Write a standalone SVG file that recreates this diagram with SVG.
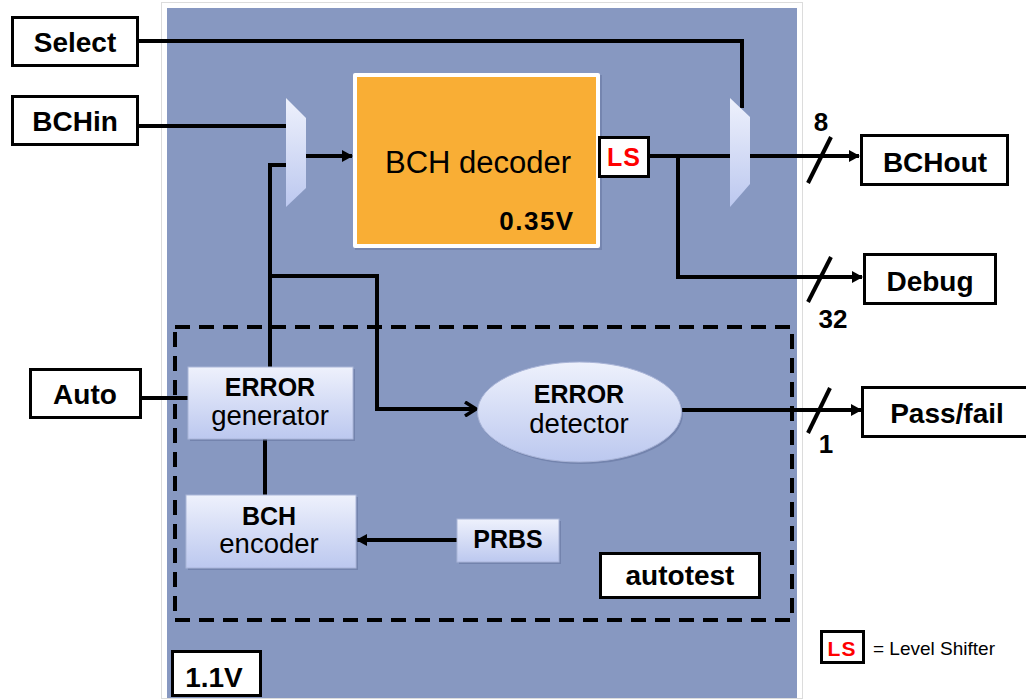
<svg xmlns="http://www.w3.org/2000/svg" width="1026" height="699" viewBox="0 0 1026 699">
<defs>
<linearGradient id="gv" x1="0" y1="0" x2="0" y2="1">
<stop offset="0" stop-color="#eef1fc"/>
<stop offset="1" stop-color="#bcc8ef"/>
</linearGradient>
<marker id="af" markerWidth="12" markerHeight="12" refX="10" refY="6" orient="auto" markerUnits="userSpaceOnUse">
<path d="M0,0 L11,6 L0,12 z" fill="#000"/>
</marker>
<marker id="ao" markerWidth="16" markerHeight="16" refX="13" refY="8" orient="auto" markerUnits="userSpaceOnUse">
<path d="M2,1 L13,8 L2,15" fill="none" stroke="#000" stroke-width="3.5"/>
</marker>
</defs>
<style>
.box{fill:#fff;stroke:#000;stroke-width:3}
.lbl{font-family:"Liberation Sans",Arial,sans-serif;font-weight:bold;font-size:28px;fill:#000;text-anchor:middle}
.in{font-family:"Liberation Sans",Arial,sans-serif;font-weight:bold;font-size:25px;fill:#000;text-anchor:middle}
.reg{font-family:"Liberation Sans",Arial,sans-serif;font-size:27.5px;fill:#000;text-anchor:middle}
.num{font-family:"Liberation Sans",Arial,sans-serif;font-weight:bold;font-size:26px;fill:#000;text-anchor:middle}
.red{font-family:"Liberation Sans",Arial,sans-serif;font-weight:bold;fill:#f00;text-anchor:middle}
.blk{fill:url(#gv);stroke:#aab5d8;stroke-width:1}
.sh{fill:#5a6a94;opacity:0.45}
.w{fill:none;stroke:#000;stroke-width:4}
.mux{fill:url(#gv);stroke:none}
</style>
<rect x="0" y="0" width="1026" height="699" fill="#fff"/>
<rect x="161.5" y="2.5" width="641" height="696" fill="#fff" stroke="#dcdcdc" stroke-width="1"/>
<rect x="167" y="8" width="630" height="690" fill="#8798c1"/>

<g id="autotest-region">
<rect x="175" y="327" width="617" height="293" fill="none" stroke="#000" stroke-width="4" stroke-dasharray="15,9"/>
</g>

<g id="connectors">
<polyline class="w" points="137,41 742,41 742,108"/>
<polyline class="w" points="137,126 286,126"/>
<line class="w" x1="306" y1="156" x2="352" y2="156" marker-end="url(#af)"/>
<polyline class="w" points="286,165 270,165 270,367"/>
<polyline class="w" points="270,276 377,276 377,409 476,409" marker-end="url(#ao)"/>
<line class="w" x1="649" y1="156" x2="730" y2="156"/>
<line class="w" x1="750" y1="156" x2="859" y2="156" marker-end="url(#af)"/>
<polyline class="w" points="678,156 678,277 862,277" marker-end="url(#af)"/>
<line class="w" x1="682" y1="410" x2="861" y2="410" marker-end="url(#af)"/>
<line class="w" x1="141" y1="398" x2="188" y2="398"/>
<line class="w" x1="265" y1="439" x2="265" y2="495"/>
<line class="w" x1="457" y1="540" x2="357" y2="540" marker-end="url(#af)"/>
<line class="w" x1="808" y1="183" x2="831" y2="137"/>
<line class="w" x1="808" y1="302" x2="831" y2="257"/>
<line class="w" x1="808" y1="433" x2="830" y2="388"/>
<text class="num" x="821" y="131">8</text>
<text class="num" x="833" y="328">32</text>
<text class="num" x="826" y="453">1</text>
</g>

<g id="select"><rect class="box" x="12.5" y="17.5" width="125" height="48"/><text class="lbl" x="75" y="52">Select</text></g>
<g id="bchin"><rect class="box" x="12.5" y="96.5" width="125" height="48"/><text class="lbl" x="75" y="131">BCHin</text></g>
<g id="auto"><rect class="box" x="30.5" y="369.5" width="110" height="48"/><text class="lbl" x="85" y="404">Auto</text></g>

<g id="mux-in"><polygon class="mux" points="286,98 306,118 306,188 286,207"/></g>
<g id="mux-out"><polygon class="mux" points="730,98 750,117 750,184 730,207"/></g>

<g id="bch-decoder">
<rect x="355" y="75" width="247" height="175" fill="#5a6a94" opacity="0.4"/>
<rect x="353" y="73" width="247" height="175" fill="#fff" rx="2"/>
<rect x="357" y="77" width="239" height="167" fill="#f9ae35"/>
<text class="reg" x="478" y="173" style="font-size:31px">BCH decoder</text>
<text class="lbl" x="537" y="230" style="font-size:26px;letter-spacing:1.5px">0.35V</text>
</g>

<g id="ls"><rect class="box" x="599.5" y="137.5" width="49" height="39"/><text class="red" x="624" y="166" style="font-size:25px;letter-spacing:1px">LS</text></g>

<g id="bchout"><rect class="box" x="861.5" y="135.5" width="146" height="49"/><text class="lbl" x="935" y="172">BCHout</text></g>
<g id="debug"><rect class="box" x="864.5" y="254.5" width="131" height="49"/><text class="lbl" x="930" y="291">Debug</text></g>
<g id="passfail"><rect class="box" x="862.5" y="387.5" width="170" height="49"/><text class="lbl" x="947" y="423">Pass/fail</text></g>

<g id="error-generator"><rect class="sh" x="190" y="369" width="165" height="72"/><rect class="blk" x="188" y="367" width="165" height="72"/><text class="in" x="270" y="396">ERROR</text><text class="reg" x="270" y="425">generator</text></g>
<g id="bch-encoder"><rect class="sh" x="188" y="497" width="170" height="73"/><rect class="blk" x="186" y="495" width="170" height="73"/><text class="in" x="269" y="525">BCH</text><text class="reg" x="269" y="553">encoder</text></g>
<g id="prbs"><rect class="sh" x="459" y="521" width="102" height="43"/><rect class="blk" x="457" y="519" width="102" height="43"/><text class="in" x="508" y="548">PRBS</text></g>
<g id="error-detector"><ellipse class="sh" cx="581" cy="414" rx="102" ry="50"/><ellipse class="blk" cx="579.5" cy="412" rx="102" ry="50"/><text class="in" x="579" y="403">ERROR</text><text class="reg" x="579" y="433">detector</text></g>

<g id="autotest-label"><rect class="box" x="600.5" y="553.5" width="159" height="44"/><text class="lbl" x="680" y="585">autotest</text></g>
<g id="v11"><rect class="box" x="172.5" y="651.5" width="88" height="44"/><text class="lbl" x="214" y="687">1.1V</text></g>

<g id="legend">
<rect class="box" x="821.5" y="631.5" width="42" height="31"/>
<text class="red" x="842" y="656" style="font-size:21px;letter-spacing:1px">LS</text>
<text x="873" y="655" font-family="Liberation Sans,Arial,sans-serif" font-size="19" fill="#000">= Level Shifter</text>
</g>
</svg>
